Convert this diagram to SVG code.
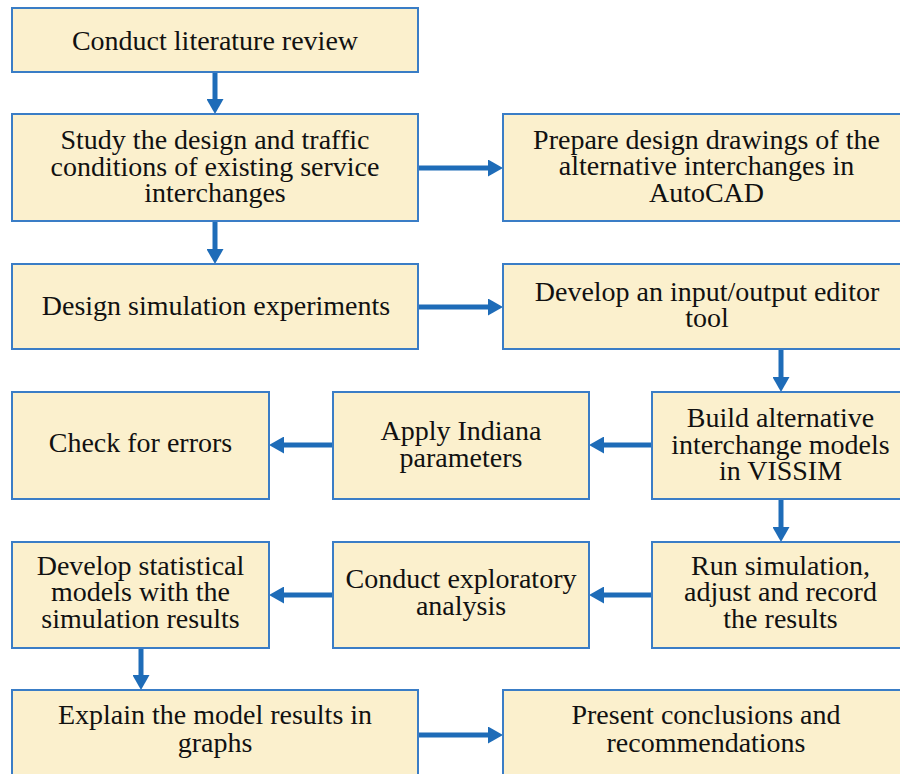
<svg xmlns="http://www.w3.org/2000/svg" width="900" height="774" viewBox="0 0 900 774">
<style>
.box{fill:#FBF0CD;stroke:#3A7DC6;stroke-width:2}
.t{font-family:'Liberation Serif','Times New Roman',serif;font-size:28px;fill:#111;text-anchor:middle}
.c{stroke:#1E6CB8;stroke-width:5;fill:none}
</style>
<defs>
<marker id="ah" markerUnits="userSpaceOnUse" markerWidth="15" markerHeight="17" refX="0" refY="8.5" orient="auto" viewBox="0 0 15 17">
<path d="M0,0 L15,8.5 L0,17 z" fill="#1E6CB8"/>
</marker>
</defs>
<rect width="900" height="774" fill="#fff"/>
<g id="connectors">
<line class="c" x1="215" y1="72" x2="215" y2="99" marker-end="url(#ah)"/>
<line class="c" x1="418" y1="168" x2="488" y2="168" marker-end="url(#ah)"/>
<line class="c" x1="215" y1="221" x2="215" y2="249" marker-end="url(#ah)"/>
<line class="c" x1="418" y1="307" x2="488" y2="307" marker-end="url(#ah)"/>
<line class="c" x1="781" y1="349" x2="781" y2="377" marker-end="url(#ah)"/>
<line class="c" x1="652" y1="445" x2="604" y2="445" marker-end="url(#ah)"/>
<line class="c" x1="333" y1="445" x2="284" y2="445" marker-end="url(#ah)"/>
<line class="c" x1="781" y1="499" x2="781" y2="527" marker-end="url(#ah)"/>
<line class="c" x1="652" y1="595" x2="604" y2="595" marker-end="url(#ah)"/>
<line class="c" x1="333" y1="595" x2="284" y2="595" marker-end="url(#ah)"/>
<line class="c" x1="141" y1="648" x2="141" y2="675" marker-end="url(#ah)"/>
<line class="c" x1="418" y1="735" x2="488" y2="735" marker-end="url(#ah)"/>
</g>
<g id="n1"><rect class="box" x="12" y="8" width="406" height="64"/><text class="t" x="215" y="50">Conduct literature review</text></g>
<g id="n2"><rect class="box" x="12" y="114" width="406" height="107"/><text class="t" x="215" y="149">Study the design and traffic</text><text class="t" x="215" y="175.5">conditions of existing service</text><text class="t" x="215" y="202">interchanges</text></g>
<g id="n3"><rect class="box" x="503" y="114" width="406" height="107"/><text class="t" x="706.5" y="149">Prepare design drawings of the</text><text class="t" x="706.5" y="175">alternative interchanges in</text><text class="t" x="706.5" y="202">AutoCAD</text></g>
<g id="n4"><rect class="box" x="12" y="264" width="406" height="85"/><text class="t" x="216" y="315">Design simulation experiments</text></g>
<g id="n5"><rect class="box" x="503" y="264" width="406" height="85"/><text class="t" x="707" y="300.5">Develop an input/output editor</text><text class="t" x="707" y="327">tool</text></g>
<g id="n6"><rect class="box" x="12" y="392" width="257" height="107"/><text class="t" x="140.5" y="452">Check for errors</text></g>
<g id="n7"><rect class="box" x="333" y="392" width="256" height="107"/><text class="t" x="461" y="440">Apply Indiana</text><text class="t" x="461" y="467">parameters</text></g>
<g id="n8"><rect class="box" x="652" y="392" width="257" height="107"/><text class="t" x="780.5" y="427">Build alternative</text><text class="t" x="780.5" y="453.5">interchange models</text><text class="t" x="780.5" y="480">in VISSIM</text></g>
<g id="n9"><rect class="box" x="12" y="542" width="257" height="106"/><text class="t" x="140.5" y="575">Develop statistical</text><text class="t" x="140.5" y="601">models with the</text><text class="t" x="140.5" y="628">simulation results</text></g>
<g id="n10"><rect class="box" x="333" y="542" width="256" height="106"/><text class="t" x="461" y="588">Conduct exploratory</text><text class="t" x="461" y="615">analysis</text></g>
<g id="n11"><rect class="box" x="652" y="542" width="257" height="106"/><text class="t" x="780.5" y="575">Run simulation,</text><text class="t" x="780.5" y="601">adjust and record</text><text class="t" x="780.5" y="628">the results</text></g>
<g id="n12"><rect class="box" x="12" y="690" width="406" height="92"/><text class="t" x="215" y="724">Explain the model results in</text><text class="t" x="215" y="752">graphs</text></g>
<g id="n13"><rect class="box" x="503" y="690" width="406" height="92"/><text class="t" x="706" y="724">Present conclusions and</text><text class="t" x="706" y="752">recommendations</text></g>
</svg>
